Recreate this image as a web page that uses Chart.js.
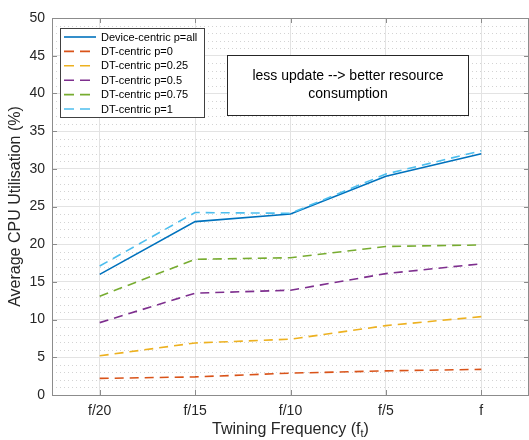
<!DOCTYPE html>
<html>
<head>
<meta charset="utf-8">
<script src="https://cdn.jsdelivr.net/npm/chart.js@4.4.0/dist/chart.umd.min.js"></script>
<style>
  html, body { margin: 0; padding: 0; background: #fff; }
  #wrap { width: 529px; height: 440px; }
</style>
</head>
<body>
<div id="wrap"><canvas id="myChart" width="529" height="440"></canvas></div>
<script>
// x categories (twinning frequency)
const freqLabels = ['f/20', 'f/15', 'f/10', 'f/5', 'f'];

// average CPU utilisation (%)
const deviceAll = [16.0, 23.0, 24.0, 29.0, 32.0];
const dtP0 = [2.2, 2.4, 2.9, 3.2, 3.4];
const dtP025 = [5.2, 6.9, 7.4, 9.2, 10.4];
const dtP05 = [9.6, 13.5, 13.9, 16.1, 17.4];
const dtP075 = [13.1, 18.0, 18.2, 19.7, 19.9];
const dtP1 = [17.1, 24.2, 24.1, 29.3, 32.4];

const seriesNames = ['Device-centric p=all', 'DT-centric p=0', 'DT-centric p=0.25',
                     'DT-centric p=0.5', 'DT-centric p=0.75', 'DT-centric p=1'];
const seriesData = [deviceAll, dtP0, dtP025, dtP05, dtP075, dtP1];
const seriesColors = ['#0072BD', '#D95319', '#EDB120', '#7E2F8E', '#77AC30', '#4DBEEE'];

const FONT = '"Liberation Sans", Arial, Helvetica, sans-serif';
const DASH = [9, 6];

const datasets = seriesNames.map(function(name, i) {
  return {
    label: name,
    data: seriesData[i],
    borderColor: seriesColors[i],
    backgroundColor: seriesColors[i],
    borderWidth: 1.6,
    borderDash: i === 0 ? [] : DASH,
    pointRadius: 0,
    tension: 0,
    fill: false,
    order: seriesNames.length - i
  };
});

// minor dotted grid, box frame, inward ticks, legend, note box, axis titles
const decor = {
  id: 'decor',
  beforeDatasetsDraw(chart) {
    const ctx = chart.ctx, a = chart.chartArea, y = chart.scales.y;
    ctx.save();
    ctx.strokeStyle = '#c8c8c8';
    ctx.lineWidth = 0.8;
    ctx.setLineDash([1, 3]);
    for (let v = 1; v < 50; v++) {
      if (v % 5 === 0) continue;
      const py = Math.round(y.getPixelForValue(v)) + 0.5;
      ctx.beginPath();
      ctx.moveTo(a.left, py);
      ctx.lineTo(a.right, py);
      ctx.stroke();
    }
    ctx.restore();
  },
  afterDraw(chart) {
    const ctx = chart.ctx, a = chart.chartArea, x = chart.scales.x, y = chart.scales.y;
    ctx.save();
    // frame
    ctx.strokeStyle = '#8c8c8c';
    ctx.lineWidth = 1;
    ctx.strokeRect(a.left + 0.5, a.top + 0.5, a.right - a.left - 1, a.bottom - a.top);
    // inward ticks
    ctx.beginPath();
    for (let v = 0; v <= 50; v += 5) {
      const py = Math.round(y.getPixelForValue(v)) + 0.5;
      ctx.moveTo(a.left, py); ctx.lineTo(a.left + 5, py);
      ctx.moveTo(a.right, py); ctx.lineTo(a.right - 5, py);
    }
    for (let i = 0; i < freqLabels.length; i++) {
      const px = Math.round(x.getPixelForValue(i)) + 0.5;
      ctx.moveTo(px, a.bottom); ctx.lineTo(px, a.bottom - 5);
      ctx.moveTo(px, a.top); ctx.lineTo(px, a.top + 5);
    }
    ctx.stroke();

    // legend box
    const lx = 60, ly = 28, lw = 144, lh = 89;
    ctx.fillStyle = '#fff';
    ctx.fillRect(lx, ly, lw, lh);
    ctx.strokeStyle = '#404040';
    ctx.strokeRect(lx + 0.5, ly + 0.5, lw, lh);
    ctx.font = '11px ' + FONT;
    ctx.textBaseline = 'middle';
    ctx.textAlign = 'left';
    chart.data.datasets.forEach(function(ds, i) {
      const ry = ly + 9 + i * 14.4;
      ctx.strokeStyle = ds.borderColor;
      ctx.lineWidth = 1.6;
      ctx.setLineDash(ds.borderDash.length ? [10, 6] : []);
      ctx.beginPath();
      ctx.moveTo(64, ry); ctx.lineTo(96, ry);
      ctx.stroke();
      ctx.setLineDash([]);
      ctx.fillStyle = '#000';
      ctx.fillText(ds.label, 101, ry + 0.5);
    });

    // note box
    ctx.fillStyle = '#fff';
    ctx.fillRect(227, 55, 241, 60);
    ctx.strokeStyle = '#262626';
    ctx.lineWidth = 1;
    ctx.strokeRect(227.5, 55.5, 241, 60);
    ctx.fillStyle = '#000';
    ctx.font = '14px ' + FONT;
    ctx.textAlign = 'center';
    ctx.fillText('less update --> better resource', 348, 76);
    ctx.fillText('consumption', 348, 94);

    // x title with subscript
    ctx.fillStyle = '#262626';
    ctx.font = '16px ' + FONT;
    const main = 'Twining Frequency (f', tail = ')';
    ctx.font = '11px ' + FONT;
    const subW = ctx.measureText('t').width;
    ctx.font = '16px ' + FONT;
    const w1 = ctx.measureText(main).width, w2 = ctx.measureText(tail).width;
    let sx = (a.left + a.right) / 2 - (w1 + subW + w2) / 2;
    ctx.textAlign = 'left';
    ctx.fillText(main, sx, 430);
    ctx.font = '11px ' + FONT;
    ctx.fillText('t', sx + w1, 434);
    ctx.font = '16px ' + FONT;
    ctx.fillText(tail, sx + w1 + subW, 430);

    // y title
    ctx.translate(16, (a.top + a.bottom) / 2);
    ctx.rotate(-Math.PI / 2);
    ctx.textAlign = 'center';
    ctx.fillText('Average CPU Utilisation (%)', 0, 0);
    ctx.restore();
  }
};

const ctx = document.getElementById('myChart').getContext('2d');
const myChart = new Chart(ctx, {
  type: 'line',
  data: {
    labels: freqLabels,
    datasets: datasets
  },
  options: {
    responsive: false,
    animation: false,
    layout: { padding: { top: 18, right: 0, left: 0, bottom: 0 } },
    plugins: {
      legend: { display: false },
      tooltip: { enabled: false }
    },
    scales: {
      x: {
        offset: true,
        grid: { color: '#e3e3e3', drawTicks: false, offset: false },
        border: { display: false },
        ticks: { color: '#262626', font: { family: FONT, size: 14 }, padding: 8, maxRotation: 0 },
        afterFit: function(s) { s.height = 45; }
      },
      y: {
        min: 0,
        max: 50,
        grid: { color: '#e3e3e3', drawTicks: false },
        border: { display: false },
        ticks: { stepSize: 5, color: '#262626', font: { family: FONT, size: 14 }, padding: 7 },
        afterFit: function(s) { s.width = 52; }
      }
    }
  },
  plugins: [decor]
});
</script>
</body>
</html>
